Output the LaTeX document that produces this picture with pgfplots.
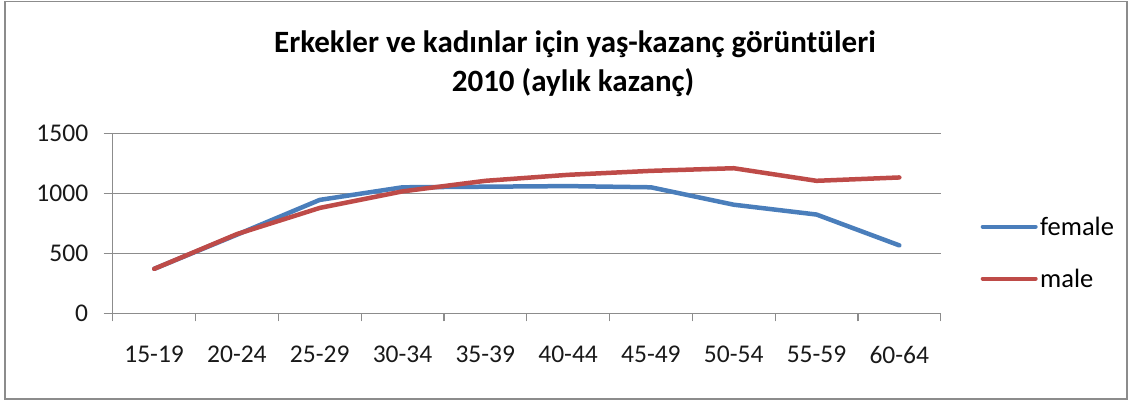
\documentclass[border=0pt]{standalone}
\usepackage{pgfplots}
\pgfplotsset{compat=1.18}
\usepackage{fontspec}
\setmainfont{Carlito}
\definecolor{fblue}{HTML}{4A7EBB}
\definecolor{mred}{HTML}{BE4B48}
\definecolor{axgray}{HTML}{8C8C8C}
\begin{document}
\begin{tikzpicture}[x=1pt,y=1pt]
\useasboundingbox (0,0) rectangle (1130,-401);
\draw[axgray, line width=1.5pt] (5,-1.5) rectangle (1127,-399);
\node[anchor=base, inner sep=0pt, font=\bfseries\fontsize{31}{36}\selectfont] at (575,-53) {Erkekler ve kadınlar için yaş-kazanç görüntüleri};
\node[anchor=base, inner sep=0pt, font=\bfseries\fontsize{31}{36}\selectfont] at (573,-92) {2010 (aylık kazanç)};
\begin{axis}[
  at={(112.7pt,-313.3pt)}, anchor=south west,
  width=828pt, height=180pt, scale only axis,
  xmin=-0.5, xmax=9.5, ymin=0, ymax=1500,
  ytick={0,500,1000,1500},
  xtick={0,...,9},
  xticklabels={15-19,20-24,25-29,30-34,35-39,40-44,45-49,50-54,55-59,60-64},
  minor xtick={-0.5,0.5,...,9.5},
  axis x line*=bottom, axis y line*=left,
  axis line style={axgray, line width=1.2pt},
  ymajorgrids, grid style={axgray, line width=1.2pt},
  tick style={axgray, line width=1.2pt},
  x tick style={draw=none},
  minor x tick style={draw=axgray, line width=1.2pt},
  tick align=outside, major tick length=9pt, minor tick length=8pt,
  /pgf/number format/1000 sep={},
  /pgf/number format/assume math mode=true,
  ticklabel style={font=\fontsize{25.5}{30}\selectfont, text=black!90},
  yticklabel style={xshift=-12pt},
  xticklabel style={yshift=-20pt},
  legend style={at={(1.0483,0.337)}, anchor=west, draw=none, fill=none,
    inner sep=0pt, outer sep=0pt, row sep=32pt,
    font=\fontsize{26.5}{30}\selectfont,
    nodes={inner xsep=2.5pt, inner ysep=0pt}},
  legend cell align=left,
  legend image code/.code={\draw[#1, line width=4pt] (0pt,0pt) -- (53pt,0pt);},
]
\addplot[fblue, line width=4.5pt, line join=round, line cap=round] coordinates {
 (0,370) (1,655) (2,945) (3,1050) (4,1055) (5,1060) (6,1050) (7,905) (8,823) (9,566)};
\addlegendentry{female}
\addplot[mred, line width=4.5pt, line join=round, line cap=round] coordinates {
 (0,370) (1,660) (2,878) (3,1016) (4,1104) (5,1154) (6,1187) (7,1209) (8,1104) (9,1132)};
\addlegendentry{male}
\end{axis}
\end{tikzpicture}
\end{document}
